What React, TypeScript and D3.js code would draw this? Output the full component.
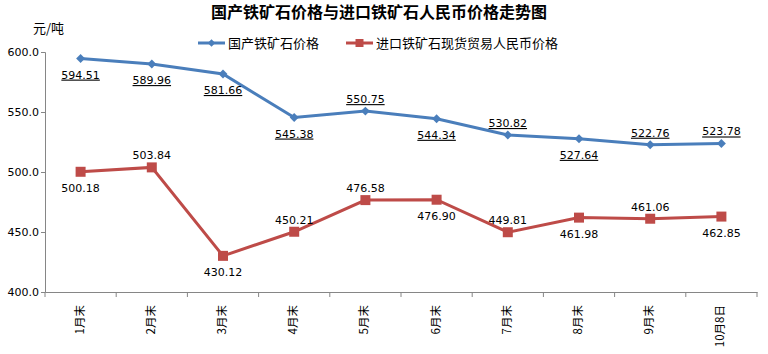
import { useEffect, useRef } from "react";
import * as d3 from "d3";

const categories = ["1月末", "2月末", "3月末", "4月末", "5月末", "6月末", "7月末", "8月末", "9月末", "10月8日"];
const domestic = [594.51, 589.96, 581.66, 545.38, 550.75, 544.34, 530.82, 527.64, 522.76, 523.78];
const imported = [500.18, 503.84, 430.12, 450.21, 476.58, 476.9, 449.81, 461.98, 461.06, 462.85];
// label placement: true = above the point
const domesticAbove = [false, false, false, false, true, false, true, false, true, true];
const importedAbove = [false, true, false, true, true, false, true, false, true, false];
const yTicks = [400, 450, 500, 550, 600];

const BLUE = "#4a7ebb";
const RED = "#be4b48";
const CJK = "'Noto Sans CJK SC', sans-serif";
const NUM = "'DejaVu Sans', Verdana, sans-serif";

const App = () => {
  const svgRef = useRef<SVGSVGElement>(null);

  useEffect(() => {
    const width = 768;
    const height = 354;
    const margin = { top: 52, right: 11, bottom: 62, left: 45 };

    const svg = d3.select(svgRef.current);
    svg.selectAll("*").remove();
    svg.attr("width", width).attr("height", height);

    const x = d3.scaleBand().domain(categories).range([margin.left, width - margin.right]);
    const y = d3.scaleLinear().domain([400, 600]).range([height - margin.bottom, margin.top]);
    const cx = (c: string) => (x(c) ?? 0) + x.bandwidth() / 2;

    svg.append("text")
      .attr("x", 379).attr("y", 18)
      .attr("text-anchor", "middle")
      .attr("font-family", CJK).attr("font-weight", "bold").attr("font-size", 16)
      .text("国产铁矿石价格与进口铁矿石人民币价格走势图");

    svg.append("text")
      .attr("x", 33).attr("y", 33)
      .attr("font-family", CJK).attr("font-size", 13)
      .text("元/吨");

    // y axis
    const ya = svg.append("g").attr("transform", `translate(${margin.left},0)`)
      .call(d3.axisLeft(y).tickValues(yTicks).tickSize(4).tickFormat(d3.format(".1f")));
    ya.select(".domain").attr("stroke", "#868686");
    ya.selectAll(".tick line").attr("stroke", "#868686");
    ya.selectAll(".tick text").attr("font-family", NUM).attr("font-size", 11).attr("fill", "#000").attr("x", -6);

    // x axis
    const xa = svg.append("g").attr("transform", `translate(0,${y(400)})`)
      .call(d3.axisBottom(x).tickValues([]).tickSizeOuter(0));
    xa.select(".domain").attr("stroke", "#868686");
    xa.selectAll("line.tk")
      .data([...categories.map((c) => x(c) ?? 0), width - margin.right])
      .join("line").attr("class", "tk")
      .attr("x1", (d) => d).attr("x2", (d) => d)
      .attr("y1", 0).attr("y2", 5).attr("stroke", "#868686");
    svg.append("g").selectAll("text")
      .data(categories)
      .join("text")
      .attr("transform", (c) => `translate(${cx(c) + 3},${y(400) + 13}) rotate(-90)`)
      .attr("text-anchor", "end")
      .attr("font-family", CJK).attr("font-size", 11.5)
      .text((c) => c);

    const drawSeries = (vals: number[], color: string, above: boolean[], underline: boolean, diamond: boolean) => {
      const line = d3.line<number>().x((_, i) => cx(categories[i])).y((d) => y(d));
      svg.append("path").datum(vals)
        .attr("d", line).attr("fill", "none").attr("stroke", color).attr("stroke-width", 3);
      svg.append("g").selectAll("path")
        .data(vals).join("path")
        .attr("transform", (d, i) => `translate(${cx(categories[i])},${y(d)})${diamond ? " rotate(45)" : ""}`)
        .attr("d", d3.symbol().type(d3.symbolSquare).size(diamond ? 40 : 100)())
        .attr("fill", color);
      svg.append("g").selectAll("text")
        .data(vals).join("text")
        .attr("x", (_, i) => cx(categories[i]))
        .attr("y", (d, i) => y(d) + (above[i] ? -8 : 20))
        .attr("text-anchor", "middle")
        .attr("font-family", NUM).attr("font-size", 11)
        .attr("text-decoration", underline ? "underline" : "none")
        .text((d) => d.toFixed(2));
    };

    drawSeries(domestic, BLUE, domesticAbove, true, true);
    drawSeries(imported, RED, importedAbove, false, false);

    // legend
    const legend = [
      { name: "国产铁矿石价格", color: BLUE, diamond: true, x: 198 },
      { name: "进口铁矿石现货贸易人民币价格", color: RED, diamond: false, x: 346 },
    ];
    legend.forEach((l) => {
      svg.append("line").attr("x1", l.x).attr("x2", l.x + 27).attr("y1", 43).attr("y2", 43)
        .attr("stroke", l.color).attr("stroke-width", 3);
      svg.append("path").attr("transform", `translate(${l.x + 13.5},43)${l.diamond ? " rotate(45)" : ""}`)
        .attr("d", d3.symbol().type(d3.symbolSquare).size(l.diamond ? 28 : 64)()).attr("fill", l.color);
      svg.append("text").attr("x", l.x + 30).attr("y", 47.5)
        .attr("font-family", CJK).attr("font-size", 13).text(l.name);
    });
  }, []);

  return <svg ref={svgRef} style={{ position: "absolute", left: 0, top: 0, background: "#fff" }}></svg>;
};

export default App;
